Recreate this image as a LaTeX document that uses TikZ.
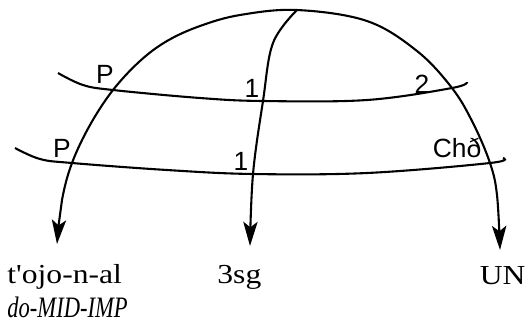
\documentclass[tikz,border=0pt]{standalone}
\usepackage{fontspec}
\setmainfont{Liberation Serif}
\newfontfamily\tagfont{Liberation Sans}
\newfontfamily\wordfont{Liberation Serif}[FakeStretch=1.15]
\newfontfamily\glossfont{Liberation Serif}[FakeStretch=0.76]
\usetikzlibrary{arrows.meta}

\begin{document}
\begin{tikzpicture}[x=0.455pt, y=-0.455pt,
  curve/.style={line width=0.95pt},
  tip/.tip={Stealth[length=11pt, width=6.5pt, inset=2.5pt]},
  arr/.style={curve, -tip},
  tag/.style={font=\tagfont\fontsize{12}{14}\selectfont, inner sep=0pt, anchor=base},
  word/.style={font=\wordfont\fontsize{12.5}{14}\selectfont, inner sep=0pt, anchor=base west},
  gloss/.style={font=\glossfont\itshape\fontsize{13.5}{15}\selectfont, inner sep=0pt, anchor=base west}
]
\useasboundingbox (0,0) rectangle (526,326);

% crossing points
\coordinate (top) at (297,10);
\coordinate (pu)  at (113,90);
\coordinate (pl)  at (72,163);
\coordinate (mu)  at (263,101);
\coordinate (ml)  at (253,174);
\coordinate (ru)  at (452,88);
\coordinate (rl)  at (490,163);

% arrow ends
\coordinate (tipl) at (57,244);
\coordinate (tipm) at (250,246);
\coordinate (tipr) at (500,250);

% labels
\node[word]  (tojo)   at (7,283)   {t'ojo-n-al};
\node[gloss] (tojogl) at (7,317)   {do-MID-IMP};
\node[word]  (sg)     at (217,283) {3sg};
\node[word, anchor=base east] (un) at (526,284) {UN};

% the two cross lines
\draw[curve] plot[smooth, tension=0.6] coordinates
  {(58,73) (83,85) (pu) (200,98) (mu) (367,100) (ru) (467,82)};
\draw[curve] plot[smooth, tension=0.6] coordinates
  {(15,148) (40,159) (pl) (167,170) (ml) (367,173) (rl) (503,158)};

% dome and middle arrow
\draw[curve, tip-tip] plot[smooth, tension=0.6] coordinates
  {(tipl) (62,200) (pl) (90,125) (pu) (140,61) (167,41) (200,26) (240,15)
   (top) (367,21) (417,51) (ru) (473,123) (rl) (497,195) (tipr)};
\draw[arr] plot[smooth, tension=0.6] coordinates
  {(top) (273,43) (mu) (ml) (tipm)};

% crossing marks
\node[tag] (pup) at (105,83)  {P};
\node[tag] (one) at (252,97)  {1};
\node[tag] (two) at (422,93)  {2};
\node[tag] (plo) at (62,157)  {P};
\node[tag] (onl) at (241,170) {1};
\node[tag] (cho) at (457,157) {Chð};
\end{tikzpicture}
\end{document}
